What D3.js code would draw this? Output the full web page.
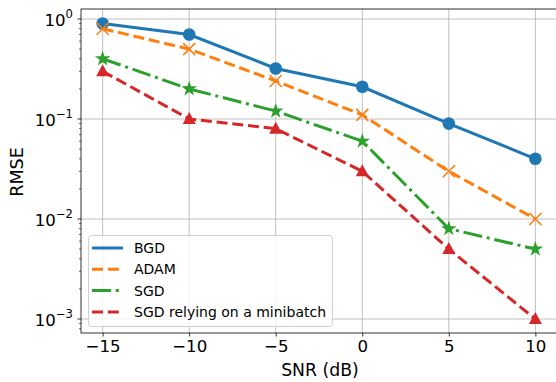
<!DOCTYPE html>
<html>
<head>
<meta charset="utf-8">
<script src="https://cdn.jsdelivr.net/npm/d3@7"></script>
<style>
	body { margin: 0; background: #fff; }
	text { font-family: "DejaVu Sans", sans-serif; }
</style>
</head>
<body>
<svg id="chart" width="556" height="382"></svg>
<script>
// data
var snr = [-15, -10, -5, 0, 5, 10];
var bgd = [0.9, 0.7, 0.32, 0.21, 0.09, 0.04];
var adam = [0.8, 0.5, 0.24, 0.11, 0.03, 0.01];
var sgd = [0.4, 0.2, 0.12, 0.06, 0.008, 0.005];
var minibatch = [0.3, 0.1, 0.08, 0.03, 0.005, 0.001];
var xTicks = [-15, -10, -5, 0, 5, 10];
var yTicks = [1, 0.1, 0.01, 0.001];

var series = [
	{ name: 'BGD', values: bgd, color: '#1f77b4', dash: null, marker: 'circle' },
	{ name: 'ADAM', values: adam, color: '#ff7f0e', dash: '11,4.8', marker: 'x' },
	{ name: 'SGD', values: sgd, color: '#2ca02c', dash: '19,4.8,3,4.8', marker: 'star' },
	{ name: 'SGD relying on a minibatch', values: minibatch, color: '#d62728', dash: '11,4.8', marker: 'triangle' }
];

var svg = d3.select('#chart');
var pLeft = 81, pRight = 557, pTop = 9, pBottom = 333;

var x = d3.scaleLinear().domain([-16.25, 11.25]).range([pLeft, pRight]);
var y = d3.scaleLog().domain([Math.pow(10, -3.14), Math.pow(10, 0.1)]).range([pBottom, pTop]);

// grid
var grid = svg.append('g');
grid.selectAll('.vg').data(xTicks).enter().append('line')
	.attr('x1', function (d) { return x(d); })
	.attr('x2', function (d) { return x(d); })
	.attr('y1', pTop).attr('y2', pBottom)
	.attr('stroke', '#b0b0b0').attr('stroke-width', 0.8);
grid.selectAll('.hg').data(yTicks).enter().append('line')
	.attr('x1', pLeft).attr('x2', pRight)
	.attr('y1', function (d) { return y(d); })
	.attr('y2', function (d) { return y(d); })
	.attr('stroke', '#b0b0b0').attr('stroke-width', 0.8);

// axes
var xAxis = d3.axisBottom(x).tickValues(xTicks).tickSize(3.5).tickPadding(3.5)
	.tickFormat(function (d) { return d < 0 ? '\u2212' + Math.abs(d) : d; });
var gx = svg.append('g').attr('transform', 'translate(0,' + pBottom + ')').call(xAxis);
gx.select('.domain').remove();
gx.selectAll('text').attr('font-size', 16.6).attr('fill', '#000').attr('font-family', 'DejaVu Sans');
gx.selectAll('line').attr('stroke', '#000').attr('stroke-width', 0.8);

var minor = [];
for (var e = -4; e <= 0; e++) {
	for (var m = 2; m <= 9; m++) {
		var v = m * Math.pow(10, e);
		if (y(v) >= pTop && y(v) <= pBottom) minor.push(v);
	}
}
svg.append('g').selectAll('line').data(minor).enter().append('line')
	.attr('x1', pLeft - 2).attr('x2', pLeft)
	.attr('y1', function (d) { return y(d); })
	.attr('y2', function (d) { return y(d); })
	.attr('stroke', '#000').attr('stroke-width', 0.6);

var gy = svg.append('g');
gy.selectAll('line').data(yTicks).enter().append('line')
	.attr('x1', pLeft - 3.5).attr('x2', pLeft)
	.attr('y1', function (d) { return y(d); })
	.attr('y2', function (d) { return y(d); })
	.attr('stroke', '#000').attr('stroke-width', 0.8);
var yl = gy.selectAll('text').data(yTicks).enter().append('text')
	.attr('x', pLeft - 8)
	.attr('y', function (d) { return y(d) + 7; })
	.attr('text-anchor', 'end')
	.attr('font-size', 16.6);
yl.append('tspan').text('10');
yl.append('tspan').attr('dy', -8).attr('font-size', 11.6)
	.text(function (d) { var p = Math.round(Math.log10(d)); return p < 0 ? '\u2212' + Math.abs(p) : p; });

// frame
svg.append('rect').attr('x', pLeft).attr('y', pTop)
	.attr('width', pRight - pLeft).attr('height', pBottom - pTop)
	.attr('fill', 'none').attr('stroke', '#000').attr('stroke-width', 0.8);

// lines
var line = d3.line()
	.x(function (d, i) { return x(snr[i]); })
	.y(function (d) { return y(d); });

function drawMarker(g, type, color) {
	if (type === 'circle') {
		g.append('circle').attr('r', 6.3).attr('fill', color);
	} else if (type === 'x') {
		g.append('path').attr('d', 'M-6,-6L6,6M-6,6L6,-6')
			.attr('stroke', color).attr('stroke-width', 1.6).attr('fill', 'none');
	} else if (type === 'star') {
		g.append('path').attr('d', d3.symbol().type(d3.symbolStar).size(75)())
			.attr('fill', color);
	} else if (type === 'triangle') {
		g.append('path').attr('d', 'M0,-7L6.5,5L-6.5,5Z').attr('fill', color);
	}
}

series.forEach(function (s) {
	svg.append('path').datum(s.values)
		.attr('d', line)
		.attr('fill', 'none')
		.attr('stroke', s.color)
		.attr('stroke-width', 3)
		.attr('stroke-dasharray', s.dash);
	s.values.forEach(function (v, i) {
		var g = svg.append('g').attr('transform', 'translate(' + x(snr[i]) + ',' + y(v) + ')');
		drawMarker(g, s.marker, s.color);
	});
});

// axis labels
svg.append('text').attr('x', 320).attr('y', 376)
	.attr('text-anchor', 'middle').attr('font-size', 17.3).text('SNR (dB)');
svg.append('text').attr('transform', 'translate(23,172) rotate(-90)')
	.attr('text-anchor', 'middle').attr('font-size', 17.5).text('RMSE');

// legend
var lg = svg.append('g');
lg.append('rect').attr('x', 88.5).attr('y', 235.5).attr('width', 244).attr('height', 91)
	.attr('rx', 3).attr('fill', '#fff').attr('fill-opacity', 0.8)
	.attr('stroke', '#d0d0d0').attr('stroke-width', 1);
var items = lg.selectAll('.item').data(series).enter().append('g')
	.attr('transform', function (d, i) { return 'translate(0,' + (248 + i * 21.3) + ')'; });
items.append('line').attr('x1', 92).attr('x2', 123).attr('y1', 0).attr('y2', 0)
	.attr('stroke', function (d) { return d.color; })
	.attr('stroke-width', 3)
	.attr('stroke-dasharray', function (d) { return d.dash; });
items.append('text').attr('x', 134).attr('y', 5).attr('font-size', 14)
	.text(function (d) { return d.name; });
</script>
</body>
</html>
